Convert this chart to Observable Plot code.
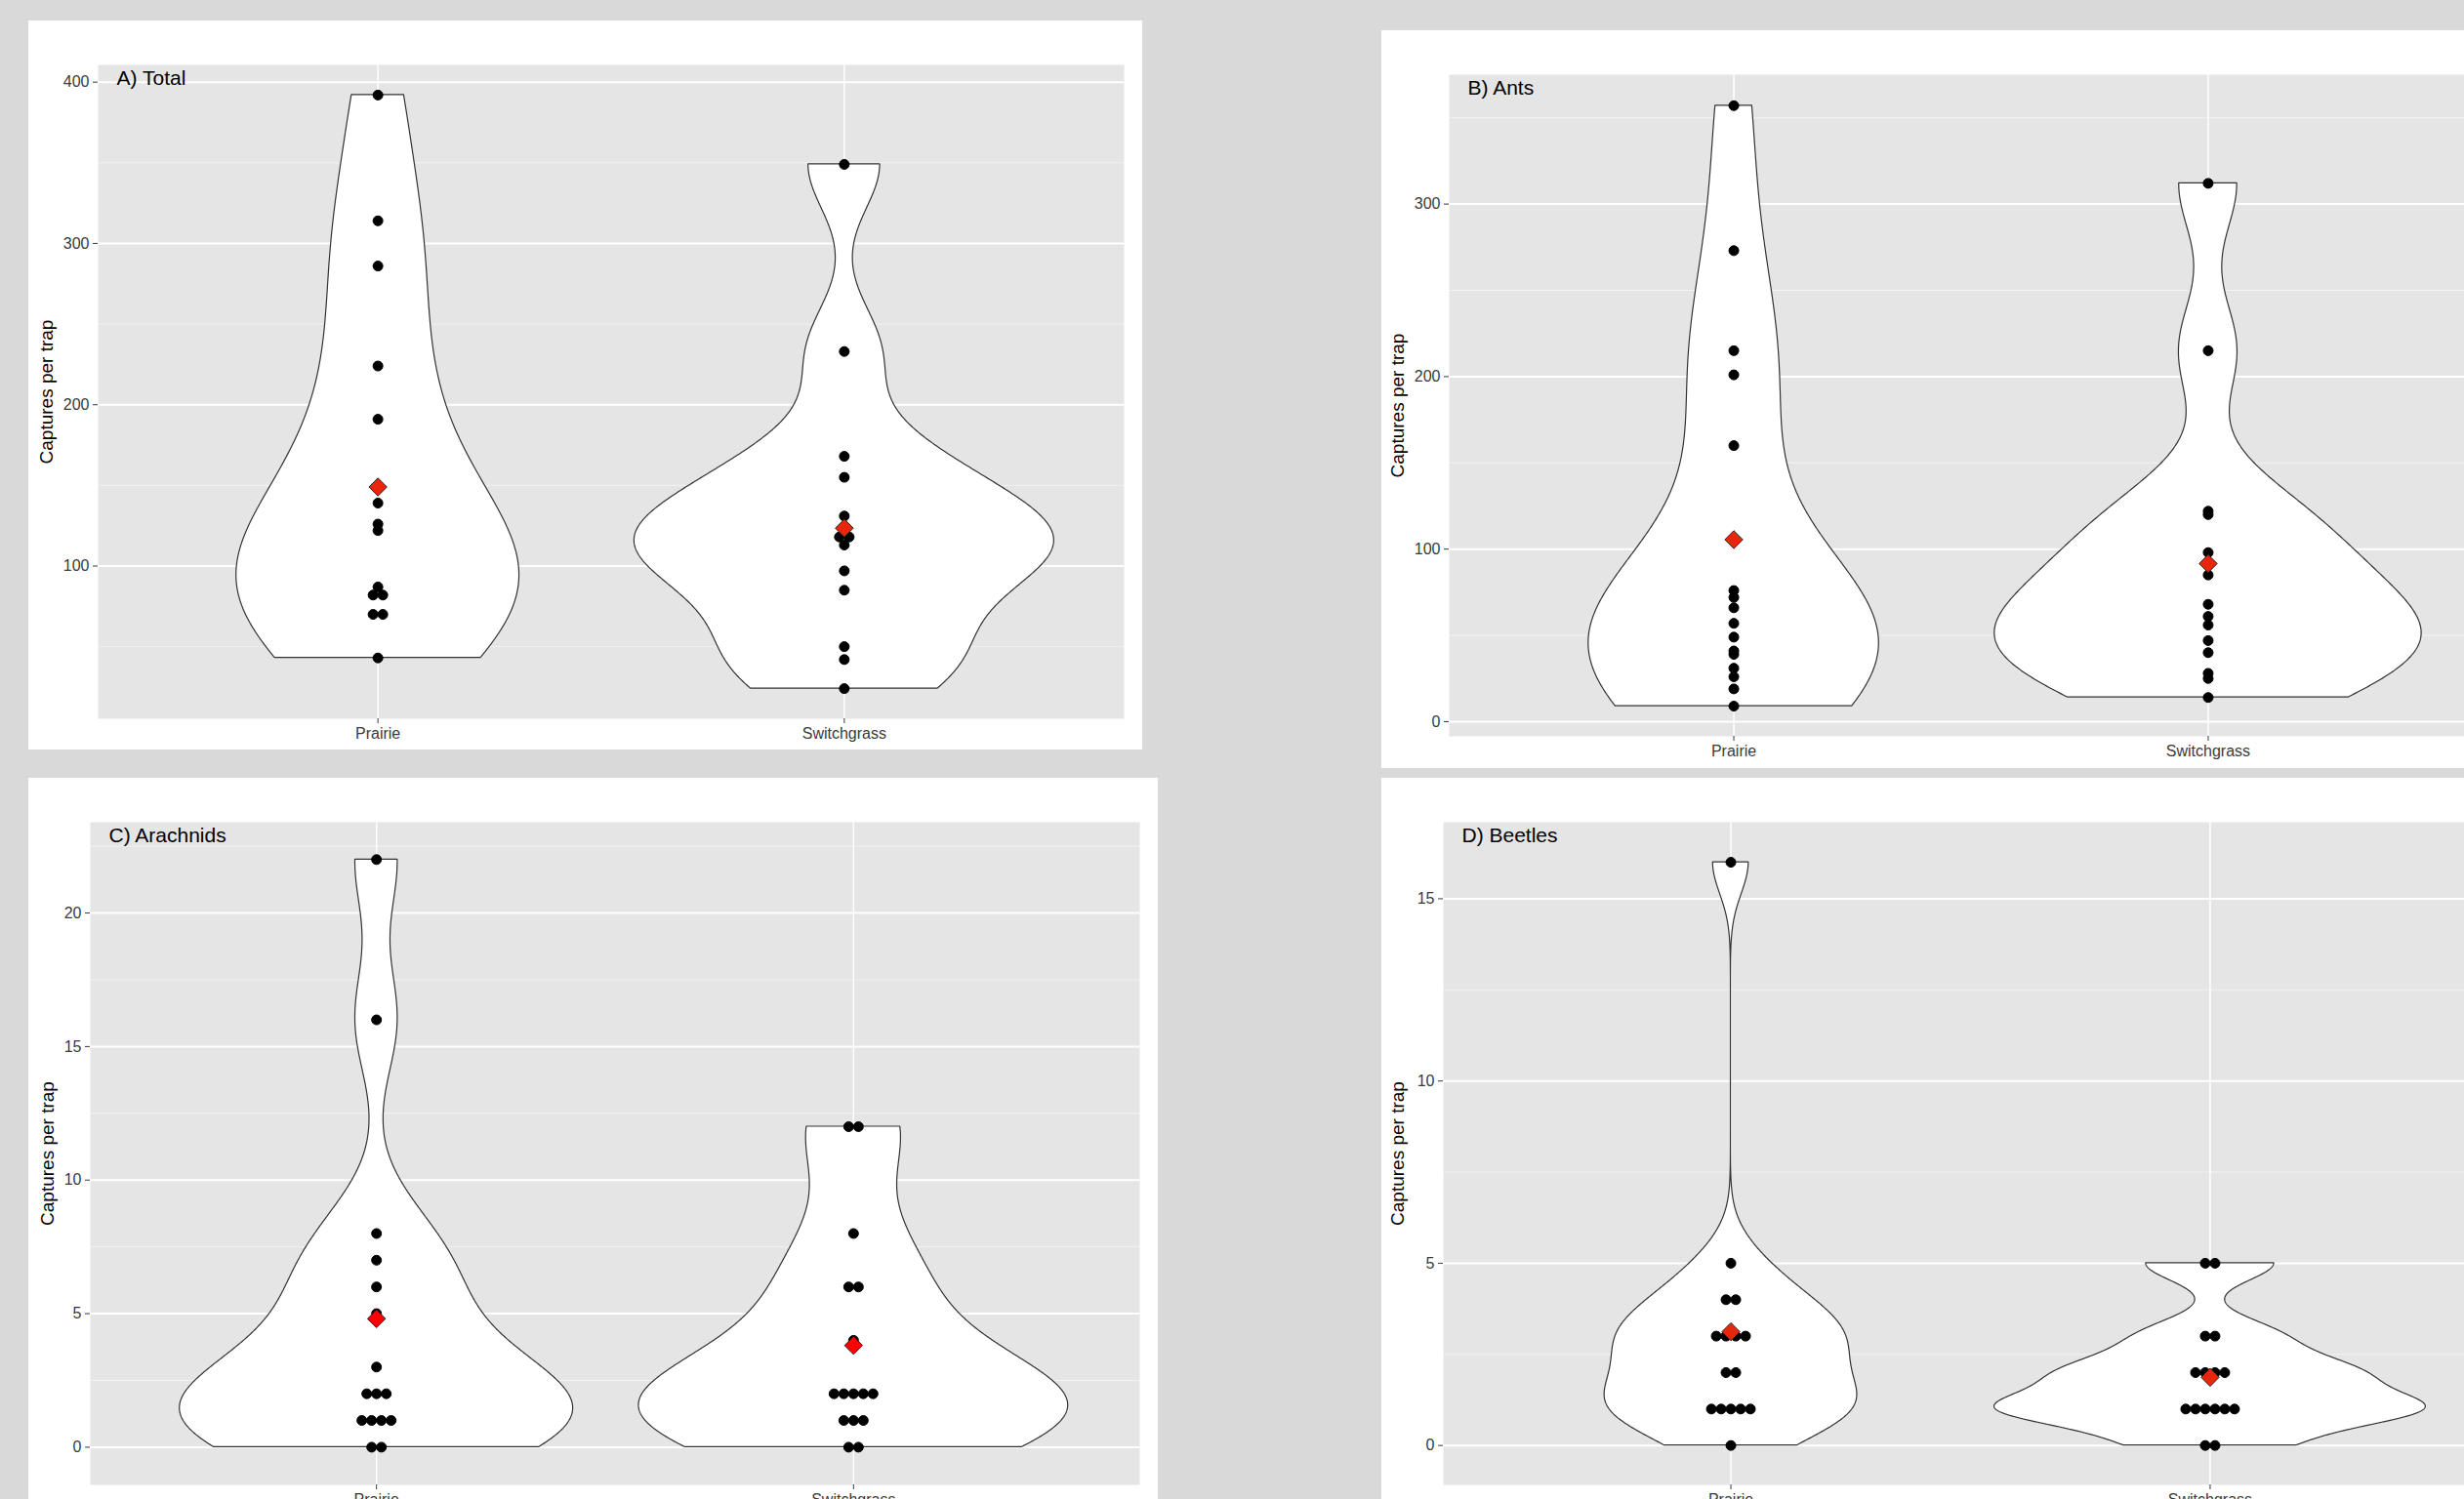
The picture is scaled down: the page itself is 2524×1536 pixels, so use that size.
<!DOCTYPE html>
<html>
<head>
<meta charset="utf-8">
<script src="https://cdn.jsdelivr.net/npm/d3@7"></script>
<script src="https://cdn.jsdelivr.net/npm/@observablehq/plot@0.6"></script>
<style>
  html, body { margin: 0; padding: 0; background: #d9d9d9; width: 2524px; height: 1536px; overflow: hidden; position: relative; }
  .panel { position: absolute; background: #ffffff; overflow: hidden; }
  .panel svg { max-width: none !important; display: block; }
</style>
</head>
<body>
<div id="pA" class="panel"></div>
<div id="pB" class="panel"></div>
<div id="pC" class="panel"></div>
<div id="pD" class="panel"></div>
<script>
// ---------------- data ----------------
const categories = ["Prairie", "Switchgrass"];
const yLabel = "Captures per trap";

const totalTitle = "A) Total";
const totalPrairie = [392, 314, 286, 224, 191, 139, 126, 122, 87, 82, 82, 70, 70, 43];
const totalSwitchgrass = [349, 233, 168, 155, 131, 118, 118, 113, 97, 85, 50, 42, 24];
const totalMeans = [149, 123.5];
const totalTicks = [100, 200, 300, 400];
const totalMinor = [50, 150, 250, 350];

const antsTitle = "B) Ants";
const antsPrairie = [357, 273, 215, 201, 160, 76, 72, 66, 57, 49, 41, 39, 31, 26, 19, 9];
const antsSwitchgrass = [312, 215, 122, 120, 98, 85, 68, 61, 56, 47, 40, 28, 25, 14];
const antsMeans = [105.5, 91.6];
const antsTicks = [0, 100, 200, 300];
const antsMinor = [50, 150, 250, 350];

const arachTitle = "C) Arachnids";
const arachPrairie = [22, 16, 8, 7, 6, 5, 3, 2, 2, 2, 1, 1, 1, 1, 0, 0];
const arachSwitchgrass = [12, 12, 8, 6, 6, 4, 2, 2, 2, 2, 2, 1, 1, 1, 0, 0];
const arachMeans = [4.81, 3.81];
const arachTicks = [0, 5, 10, 15, 20];
const arachMinor = [2.5, 7.5, 12.5, 17.5, 22.5];

const beetleTitle = "D) Beetles";
const beetlePrairie = [16, 5, 4, 4, 3, 3, 3, 3, 2, 2, 1, 1, 1, 1, 1, 0];
const beetleSwitchgrass = [5, 5, 3, 3, 2, 2, 2, 2, 1, 1, 1, 1, 1, 1, 0, 0];
const beetleMeans = [3.12, 1.87];
const beetleTicks = [0, 5, 10, 15];
const beetleMinor = [2.5, 7.5, 12.5];

// ---------------- helpers ----------------
const FONT = "'Liberation Sans', Arial, Helvetica, sans-serif";

// R's bw.nrd0
function nrd0(x) {
  const s = d3.deviation(x);
  const sorted = x.slice().sort(d3.ascending);
  const iqr = d3.quantile(sorted, 0.75) - d3.quantile(sorted, 0.25);
  let lo = Math.min(s, iqr / 1.34);
  if (!(lo > 0)) lo = s || Math.abs(x[0]) || 1;
  return 0.9 * lo * Math.pow(x.length, -0.2);
}

// Gaussian kernel density (trimmed to data range), like geom_violin
function kde(values, n = 512) {
  const bw = nrd0(values);
  const lo = d3.min(values), hi = d3.max(values);
  const out = [];
  for (let i = 0; i < n; i++) {
    const y = lo + (hi - lo) * i / (n - 1);
    let s = 0;
    for (const v of values) { const u = (y - v) / bw; s += Math.exp(-0.5 * u * u); }
    out.push({y, density: s / (values.length * bw * Math.sqrt(2 * Math.PI))});
  }
  return out;
}

function drawPanel(id, cfg) {
  const {title, groups, means, domain, ticks, minor, left, top, width, height,
         mL, mR, mT, mB, labelDx, meanFill} = cfg;
  const el = document.getElementById(id);
  el.style.left = left + "px"; el.style.top = top + "px";
  el.style.width = width + "px"; el.style.height = height + "px";

  const plotW = width - mL - mR;
  const pxPerUnit = plotW / 2.2;
  const dotStep = 10; // px between stacked dots

  // violins (scale = "area": widths relative to the panel's max density)
  const dens = groups.map(g => kde(g));
  const maxD = d3.max(dens.flat(), d => d.density);
  const violin = [];
  dens.forEach((arr, gi) => arr.forEach(d => {
    const w = d.density / maxD * 0.45;
    violin.push({group: categories[gi], y: d.y, x1: gi + 1 - w, x2: gi + 1 + w});
  }));

  // dots, stacked sideways for ties (centre-stacked dotplot)
  const dots = [];
  groups.forEach((g, gi) => {
    const byVal = d3.group(g, v => v);
    for (const [v, arr] of byVal) {
      const k = arr.length;
      arr.forEach((_, i) => {
        const off = (i - (k - 1) / 2) * dotStep / pxPerUnit;
        dots.push({x: gi + 1 + off, y: v});
      });
    }
  });
  const meanData = means.map((m, gi) => ({x: gi + 1, y: m}));

  const svg = Plot.plot({
    width, height,
    marginLeft: mL, marginRight: mR, marginTop: mT, marginBottom: mB,
    style: {fontFamily: FONT, background: "transparent", overflow: "visible"},
    x: {domain: [0.4, 2.6]},
    y: {domain},
    marks: [
      Plot.frame({fill: "#e5e5e5", stroke: null}),
      Plot.ruleY(minor, {stroke: "#f2f2f2", strokeWidth: 1}),
      Plot.ruleY(ticks, {stroke: "#ffffff", strokeWidth: 2}),
      Plot.ruleX([1, 2], {stroke: "#ffffff", strokeWidth: 1.5}),
      Plot.areaX(violin, {x1: "x1", x2: "x2", y: "y", z: "group", fill: "#ffffff",
                          stroke: "#333333", strokeWidth: 1.2, curve: "linear"}),
      Plot.dot(dots, {x: "x", y: "y", r: 5, fill: "#000000", stroke: "#000000", strokeWidth: 1}),
      Plot.dot(meanData, {x: "x", y: "y", symbol: "diamond2", r: 8.3, fill: meanFill,
                          stroke: "#222222", strokeWidth: 1}),
      Plot.text([title], {frameAnchor: "top-left", text: d => d, dx: 19, dy: 6,
                          lineAnchor: "top", textAnchor: "start", fontSize: 21, fill: "#000000"}),
      Plot.axisY(ticks, {tickSize: 5, tickPadding: 4, fontSize: 16, color: "#3a3a3a", label: null,
                         tickFormat: d => String(d)}),
      Plot.axisX([1, 2], {tickSize: 5, tickPadding: 4, fontSize: 16, color: "#3a3a3a", label: null,
                          tickFormat: i => categories[i - 1]}),
      Plot.text([yLabel], {frameAnchor: "left", text: d => d, rotate: -90, dx: labelDx,
                           textAnchor: "middle", lineAnchor: "middle", fontSize: 19, fill: "#000000"})
    ]
  });
  el.appendChild(svg);
}

drawPanel("pA", {title: totalTitle, groups: [totalPrairie, totalSwitchgrass], means: totalMeans,
  domain: [5.3, 410.7], ticks: totalTicks, minor: totalMinor,
  left: 29, top: 21, width: 1141, height: 747, mL: 71, mR: 19, mT: 45, mB: 32, labelDx: -53, meanFill: "#e8260c"});
drawPanel("pB", {title: antsTitle, groups: [antsPrairie, antsSwitchgrass], means: antsMeans,
  domain: [-8.5, 375], ticks: antsTicks, minor: antsMinor,
  left: 1415, top: 31, width: 1157, height: 756, mL: 69, mR: 19, mT: 45, mB: 33, labelDx: -53, meanFill: "#e8260c"});
drawPanel("pC", {title: arachTitle, groups: [arachPrairie, arachSwitchgrass], means: arachMeans,
  domain: [-1.41, 23.4], ticks: arachTicks, minor: arachMinor,
  left: 29, top: 797, width: 1157, height: 757, mL: 63, mR: 19, mT: 45, mB: 33, labelDx: -44, meanFill: "#ff0000"});
drawPanel("pD", {title: beetleTitle, groups: [beetlePrairie, beetleSwitchgrass], means: beetleMeans,
  domain: [-1.08, 17.1], ticks: beetleTicks, minor: beetleMinor,
  left: 1415, top: 797, width: 1162, height: 757, mL: 63, mR: 19, mT: 45, mB: 33, labelDx: -47, meanFill: "#e8260c"});
</script>
</body>
</html>
